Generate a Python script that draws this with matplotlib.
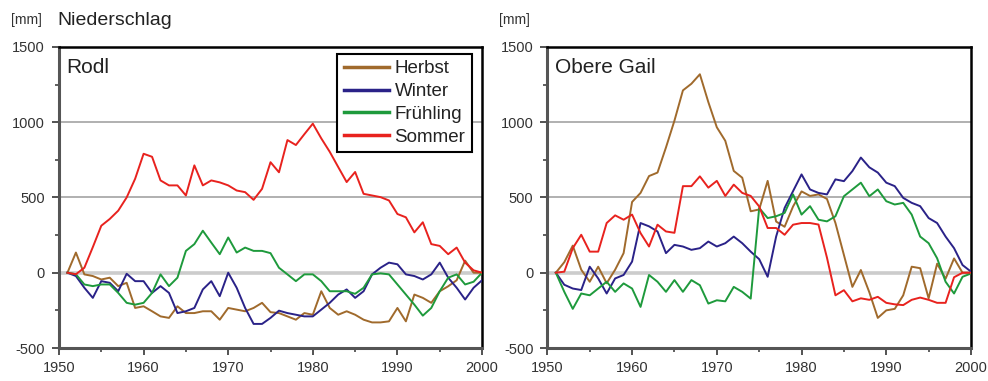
import numpy as np
import matplotlib
matplotlib.use("Agg")
import matplotlib.pyplot as plt

plt.rcParams['font.family'] = ['Liberation Sans', 'DejaVu Sans']
plt.rcParams['axes.unicode_minus'] = False

# Jahre (Summenkurven der Abweichungen, 1951-2000)
jahre = list(range(1951, 2001))

# Rodl
herbst_rodl = [0, 134, -11, -22, -45, -33, -89, -67, -234, -223,
               -256, -290, -300, -223, -268, -268, -256, -256, -312, -234,
               -245, -256, -234, -200, -262, -268, -290, -312, -268, -279,
               -123, -234, -279, -256, -279, -312, -330, -330, -323, -234,
               -323, -145, -167, -200, -123, -90, -50, 80, 0, 0]
winter_rodl = [0, -22, -100, -167, -56, -67, -123, -7, -56, -56,
               -134, -89, -134, -268, -256, -234, -111, -56, -156, 0,
               -100, -234, -340, -340, -300, -252, -268, -279, -290, -290,
               -245, -200, -145, -111, -167, -123, -11, 33, 67, 56,
               -11, -22, -45, -11, 67, -33, -100, -178, -100, -50]
fruehling_rodl = [0, -10, -78, -89, -78, -78, -134, -200, -212, -200,
                  -134, -11, -89, -33, 145, 190, 279, 200, 123, 234,
                  134, 167, 145, 145, 130, 33, -11, -56, -11, -11,
                  -56, -123, -123, -123, -140, -100, -11, -4, -11, -78,
                  -145, -212, -285, -234, -123, -33, -11, -78, -60, 0]
sommer_rodl = [0, -10, 33, 170, 312, 357, 412, 500, 624, 790,
               770, 613, 580, 580, 513, 713, 580, 613, 600, 580,
               546, 535, 484, 557, 734, 667, 881, 848, 920, 990,
               892, 803, 702, 602, 669, 524, 513, 502, 480, 390,
               368, 268, 335, 190, 178, 123, 167, 67, 16, 0]

# Obere Gail
herbst_gail = [0, 70, 180, 20, -60, 40, -70, 20, 130, 470,
               530, 642, 665, 832, 1010, 1211, 1255, 1318, 1133, 966,
               876, 676, 631, 408, 420, 610, 340, 305, 440, 540,
               510, 520, 490, 330, 118, -94, 18, -130, -300, -250,
               -240, -150, 40, 30, -170, 60, -40, 95, 0, 0]
winter_gail = [0, -80, -105, -115, 40, -38, -138, -38, -15, 74,
               330, 308, 274, 130, 185, 174, 152, 163, 207, 174,
               196, 240, 196, 140, 90, -27, 240, 430, 542, 653,
               553, 530, 520, 620, 608, 675, 765, 700, 665, 598,
               575, 497, 464, 442, 363, 330, 240, 163, 51, 7]
fruehling_gail = [0, -127, -240, -138, -150, -105, -60, -127, -71, -105,
                  -227, -15, -60, -127, -49, -127, -49, -83, -205, -183,
                  -190, -94, -127, -172, 430, 363, 375, 397, 520, 386,
                  442, 352, 341, 375, 508, 553, 598, 508, 553, 475,
                  453, 464, 386, 240, 196, 96, -60, -138, -27, -5]
sommer_gail = [0, 7, 163, 252, 140, 140, 330, 381, 352, 386,
               263, 174, 319, 274, 265, 575, 575, 640, 565, 610,
               510, 585, 530, 510, 440, 297, 297, 252, 319, 330,
               330, 320, 100, -150, -116, -190, -170, -180, -160, -200,
               -210, -215, -180, -165, -180, -200, -200, -30, 0, 0]

farben = {'Herbst': '#a06a2c', 'Winter': '#2a2288', 'Frühling': '#1e9a3c', 'Sommer': '#e8221e'}


def zeichne(ax, reihen, name, legende=False):
    # Gitterlinien
    ax.axhline(0, color='#cccccc', lw=2.6, zorder=1)
    for v in (500, 1000):
        ax.axhline(v, color='#aaaaaa', lw=1.3, zorder=1)

    for label, werte in reihen:
        ax.plot(jahre, werte, color=farben[label], lw=1.4, label=label, zorder=3)

    ax.set_xlim(1950, 2000)
    ax.set_ylim(-500, 1500)
    ax.set_xticks([1950, 1960, 1970, 1980, 1990, 2000])
    ax.set_xticks([1955, 1965, 1975, 1985, 1995], minor=True)
    ax.set_yticks([-500, 0, 500, 1000, 1500])
    ax.set_yticks([-250, 250, 750, 1250], minor=True)
    ax.tick_params(which='major', length=5, width=1.3, color='#444444',
                   labelsize=10.5, labelcolor='#333333')
    ax.tick_params(which='minor', length=3, width=1.2, color='#444444')
    ax.tick_params(axis='y', pad=5)
    ax.tick_params(axis='x', pad=4)

    for s in ('top', 'right'):
        ax.spines[s].set_color('black')
        ax.spines[s].set_linewidth(1.8)
    for s in ('left', 'bottom'):
        ax.spines[s].set_color('#555555')
        ax.spines[s].set_linewidth(2.2)

    ax.text(0.018, 0.93, name, transform=ax.transAxes, fontsize=15,
            va='center', ha='left', color='#222222')

    if legende:
        leg = ax.legend(loc='upper right', bbox_to_anchor=(0.976, 0.977),
                        borderaxespad=0, fontsize=13.5, fancybox=False,
                        framealpha=1, edgecolor='black', handlelength=2.4,
                        handletextpad=0.3, labelspacing=0.3, borderpad=0.35)
        leg.get_frame().set_linewidth(1.5)
        for t in leg.get_texts():
            t.set_color('#222222')
        for l in leg.get_lines():
            l.set_linewidth(2.5)


fig = plt.figure(figsize=(9.88, 3.81), dpi=100)
ax1 = fig.add_axes([0.0597, 0.0866, 0.4282, 0.7904])
ax2 = fig.add_axes([0.5540, 0.0866, 0.4288, 0.7904])

zeichne(ax1, [('Herbst', herbst_rodl), ('Winter', winter_rodl),
              ('Frühling', fruehling_rodl), ('Sommer', sommer_rodl)],
        'Rodl', legende=True)
zeichne(ax2, [('Herbst', herbst_gail), ('Winter', winter_gail),
              ('Frühling', fruehling_gail), ('Sommer', sommer_gail)],
        'Obere Gail')

fig.text(0.011, 0.947, '[mm]', fontsize=10, va='center', color='#333333')
fig.text(0.058, 0.947, 'Niederschlag', fontsize=14, va='center', color='#222222')
fig.text(0.505, 0.947, '[mm]', fontsize=10, va='center', color='#333333')

fig.savefig('out.png', dpi=100)
